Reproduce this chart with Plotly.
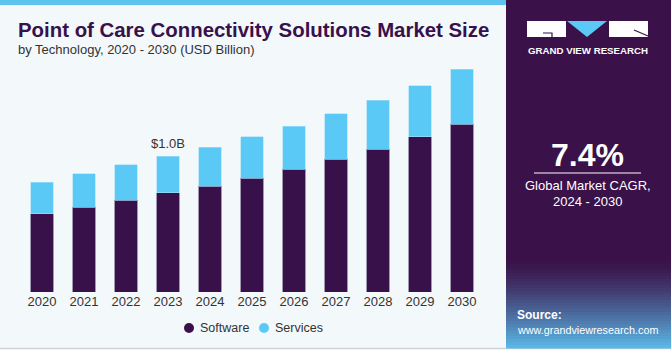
import plotly.graph_objects as go

years = ["2020", "2021", "2022", "2023", "2024", "2025", "2026", "2027", "2028", "2029", "2030"]
software = [0.574, 0.623, 0.674, 0.728, 0.779, 0.838, 0.904, 0.976, 1.051, 1.140, 1.235]
services = [0.233, 0.247, 0.260, 0.272, 0.287, 0.302, 0.316, 0.335, 0.359, 0.377, 0.402]
series_names = ["Software", "Services"]
annot_year = "2023"
annot_text = "$1.0B"
cagr_text = "7.4%"

W, H = 671, 350
def px(x):
    return x / W
def py(y):
    return 1 - y / H

PURPLE = "#38104A"
BLUE = "#5BC9F6"
BG = "#F3F8FB"
FONT = "Liberation Sans, Arial"

fig = go.Figure()
fig.add_trace(go.Bar(x=years, y=software, name=series_names[0],
                     marker=dict(color=PURPLE, line=dict(width=0.6, color="#6a5a80")), width=0.54))
fig.add_trace(go.Bar(x=years, y=services, name=series_names[1],
                     marker=dict(color=BLUE, line=dict(width=0.6, color="#a8e0f8")), width=0.54))

idx = years.index(annot_year)
total = software[idx] + services[idx]

shapes = []
shapes.append(dict(type="rect", xref="paper", yref="paper", x0=0, x1=px(506), y0=py(348), y1=1,
                   fillcolor=BG, line=dict(width=0), layer="below"))
shapes.append(dict(type="line", xref="paper", yref="paper", x0=0, x1=1, y0=py(348.5), y1=py(348.5),
                   line=dict(color="#cfd3d6", width=1.5)))
shapes.append(dict(type="rect", xref="paper", yref="paper", x0=0, x1=px(506), y0=py(5), y1=1,
                   fillcolor="#5BC5F0", line=dict(width=0)))
shapes.append(dict(type="rect", xref="paper", yref="paper", x0=px(506), x1=1, y0=py(348), y1=1,
                   fillcolor="#3A1148", line=dict(width=0)))
c0 = (0x3A, 0x11, 0x48)
c1 = (0x5A, 0xB6, 0xE6)
n = 30
top, bot = 258, 348
for i in range(n):
    t = (i / (n - 1)) ** 1.3
    col = tuple(int(c0[k] + (c1[k] - c0[k]) * t) for k in range(3))
    y0 = top + (bot - top) * i / n
    y1 = top + (bot - top) * (i + 1) / n
    shapes.append(dict(type="rect", xref="paper", yref="paper", x0=px(506), x1=1, y0=py(y1 + 0.5), y1=py(y0),
                       fillcolor="rgb(%d,%d,%d)" % col, line=dict(width=0)))
# logo
shapes.append(dict(type="rect", xref="paper", yref="paper", x0=px(527), x1=px(566), y0=py(37), y1=py(21),
                   fillcolor="white", line=dict(width=0)))
shapes.append(dict(type="path", xref="paper", yref="paper",
                   path="M %f %f L %f %f L %f %f Z" % (px(567), py(21), px(607), py(21), px(587), py(37)),
                   fillcolor="#5BC8F5", line=dict(width=0)))
shapes.append(dict(type="rect", xref="paper", yref="paper", x0=px(609), x1=px(648), y0=py(37), y1=py(21),
                   fillcolor="white", line=dict(width=0)))
shapes.append(dict(type="path", xref="paper", yref="paper",
                   path="M %f %f L %f %f L %f %f" % (px(543), py(33), px(552), py(33), px(552), py(37)),
                   line=dict(color="#3A1148", width=1.2)))
shapes.append(dict(type="line", xref="paper", yref="paper", x0=px(634), x1=px(648), y0=py(30), y1=py(36),
                   line=dict(color="#3A1148", width=1.2)))
shapes.append(dict(type="line", xref="paper", yref="paper", x0=px(534), x1=px(641), y0=py(173), y1=py(173),
                   line=dict(color="white", width=1)))

# manual legend (circle markers)
legend_items = [(series_names[0], PURPLE, 189), (series_names[1], BLUE, 264)]
annotations = []
for name, colr, cx in legend_items:
    shapes.append(dict(type="circle", xref="paper", yref="paper", x0=px(cx - 5), x1=px(cx + 5),
                       y0=py(333), y1=py(323), fillcolor=colr, line=dict(width=0)))
    annotations.append(dict(text=name, x=px(cx + 9), y=py(328), xref="paper", yref="paper",
                            xanchor="left", yanchor="middle", showarrow=False,
                            font=dict(family=FONT, size=12.5, color="#333333")))

annotations += [
    dict(x=idx, y=total, xref="x", yref="y", text=annot_text, showarrow=False, yanchor="bottom", yshift=3,
         font=dict(family=FONT, size=13, color="#333333")),
    dict(text="<b>Point of Care Connectivity Solutions Market Size</b>", x=px(16), y=py(30), xref="paper", yref="paper",
         xanchor="left", yanchor="middle", showarrow=False,
         font=dict(family=FONT, size=20.4, color="#38104A")),
    dict(text="by Technology, 2020 - 2030 (USD Billion)", x=px(16), y=py(50), xref="paper", yref="paper",
         xanchor="left", yanchor="middle", showarrow=False,
         font=dict(family=FONT, size=13, color="#333333")),
    dict(text="<b>GRAND VIEW RESEARCH</b>", x=px(587.5), y=py(51), xref="paper", yref="paper",
         xanchor="center", yanchor="middle", showarrow=False,
         font=dict(family=FONT, size=9.7, color="white")),
    dict(text="<b>" + cagr_text + "</b>", x=px(587.5), y=py(155), xref="paper", yref="paper",
         xanchor="center", yanchor="middle", showarrow=False,
         font=dict(family=FONT, size=32, color="white")),
    dict(text="Global Market CAGR,", x=px(587.5), y=py(185), xref="paper", yref="paper",
         xanchor="center", yanchor="middle", showarrow=False,
         font=dict(family=FONT, size=13, color="white")),
    dict(text="2024 - 2030", x=px(587.5), y=py(201), xref="paper", yref="paper",
         xanchor="center", yanchor="middle", showarrow=False,
         font=dict(family=FONT, size=13, color="white")),
    dict(text="<b>Source:</b>", x=px(515), y=py(315), xref="paper", yref="paper",
         xanchor="left", yanchor="middle", showarrow=False,
         font=dict(family=FONT, size=12, color="white")),
    dict(text="www.grandviewresearch.com", x=px(515), y=py(330), xref="paper", yref="paper",
         xanchor="left", yanchor="middle", showarrow=False,
         font=dict(family=FONT, size=10.8, color="white")),
]

base_px = 292
top_px = 62
scale = 136.0
fig.update_layout(
    width=W, height=H,
    margin=dict(l=0, r=0, t=0, b=0),
    paper_bgcolor="white",
    plot_bgcolor="rgba(0,0,0,0)",
    barmode="stack",
    shapes=shapes,
    annotations=annotations,
    showlegend=False,
    xaxis=dict(type="category", domain=[px(21), px(483)], range=[-0.5, len(years) - 0.5], autorange=False,
               showgrid=False, showline=False, zeroline=False, ticks="",
               tickfont=dict(family=FONT, size=13, color="#333333")),
    yaxis=dict(domain=[py(base_px), py(top_px)], range=[0, (base_px - top_px) / scale], autorange=False, visible=False),
)
fig.write_html("out.html")
